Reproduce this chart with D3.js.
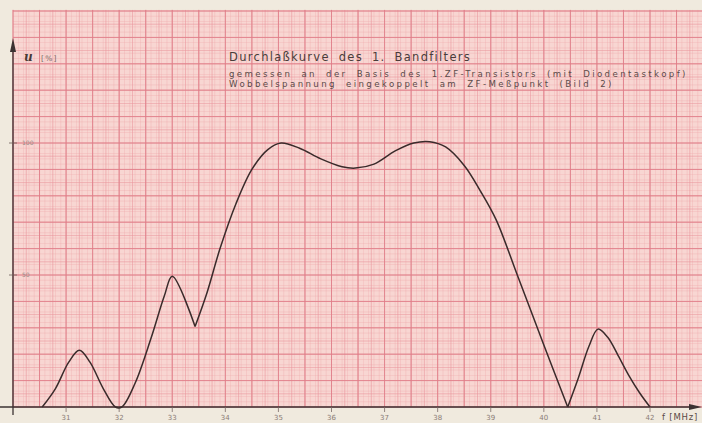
<!DOCTYPE html>
<html>
<head>
<meta charset="utf-8">
<script src="https://cdn.jsdelivr.net/npm/d3@7"></script>
<style>
  body { margin: 0; background: #f0eade; }
  svg { display: block; }
</style>
</head>
<body>
<div id="chart"></div>
<script>
var width = 702,
    height = 423;

// DATA
var freq = [30.55, 30.8, 31.05, 31.25, 31.45, 31.7, 31.93, 32.05, 32.3, 32.6, 32.85, 33.0, 33.43, 33.65, 33.9, 34.2, 34.5, 34.8, 35.05, 35.4, 35.8, 36.2, 36.45, 36.8, 37.2, 37.55, 37.85, 38.15, 38.5, 38.8, 39.1, 39.5, 40.0, 40.45, 40.65, 40.85, 41.02, 41.2, 41.4, 41.6, 41.8, 42.0];
var volt = [0, 7, 17, 21.5, 17, 7, 0, 0, 9, 26, 42, 49.5, 30.5, 43, 60, 77, 90, 97.5, 100, 98, 94, 91, 90.5, 92, 97, 100, 100.5, 98.5, 91.5, 82, 71, 50, 23.5, 0, 11, 23, 29.5, 26.5, 19.5, 12, 5.5, 0];
var sharpAt = [33.43, 40.45];

var xTicks = [31, 32, 33, 34, 35, 36, 37, 38, 39, 40, 41, 42];
var yTicks = [50, 100];

var title = "Durchlaßkurve des 1. Bandfilters";
var subtitle = ["gemessen an der Basis des 1.ZF-Transistors (mit Diodentastkopf)",
                "Wobbelspannung eingekoppelt am ZF-Meßpunkt (Bild 2)"];

var x = d3.scaleLinear().domain([30, 42]).range([13, 650]);
var y = d3.scaleLinear().domain([0, 100]).range([407, 143]);

var svg = d3.select("#chart").append("svg")
    .attr("width", width)
    .attr("height", height);

// PAPER
svg.append("rect")
    .attr("width", width).attr("height", height)
    .attr("fill", "#f0eade");

var x0 = x(30), x1 = width, y0 = y(0), y1 = y(150.4);
svg.append("rect")
    .attr("x", x0).attr("y", y1)
    .attr("width", x1 - x0).attr("height", y0 - y1)
    .attr("fill", "#f8d6d2");

// GRID (minor / medium / major)
var grid = svg.append("g").attr("class", "grid");
function gridLines(stepX, stepY, color, w, op) {
    var xs = d3.range(30, 43.01, stepX), ys = d3.range(0, 150.5, stepY);
    grid.append("g").selectAll("line").data(xs).enter().append("line")
        .attr("x1", function(d) { return x(d); }).attr("x2", function(d) { return x(d); })
        .attr("y1", y0).attr("y2", y1)
        .attr("stroke", color).attr("stroke-width", w).attr("opacity", op);
    grid.append("g").selectAll("line").data(ys).enter().append("line")
        .attr("y1", function(d) { return y(d); }).attr("y2", function(d) { return y(d); })
        .attr("x1", x0).attr("x2", x1)
        .attr("stroke", color).attr("stroke-width", w).attr("opacity", op);
}
gridLines(0.1, 2, "#f0a5a8", 0.6, 0.5);
gridLines(0.25, 5, "#ea939a", 0.8, 0.7);
gridLines(0.5, 10, "#e07d88", 1.0, 0.8);

// AXES
var axisColor = "#3b3232";
svg.append("line")
    .attr("x1", 0).attr("x2", 690)
    .attr("y1", y0).attr("y2", y0)
    .attr("stroke", axisColor).attr("stroke-width", 1.3);
svg.append("path")
    .attr("d", "M689," + (y0 - 3) + "L702," + y0 + "L689," + (y0 + 3) + "Z")
    .attr("fill", axisColor);
svg.append("line")
    .attr("x1", x0).attr("x2", x0)
    .attr("y1", y0 + 8).attr("y2", 50)
    .attr("stroke", axisColor).attr("stroke-width", 1.3);
svg.append("path")
    .attr("d", "M" + (x0 - 3) + ",52L" + x0 + ",38L" + (x0 + 3) + ",52Z")
    .attr("fill", axisColor);

// ticks
svg.append("g").selectAll("line").data(xTicks).enter().append("line")
    .attr("x1", function(d) { return x(d); }).attr("x2", function(d) { return x(d); })
    .attr("y1", y0).attr("y2", y0 + 5)
    .attr("stroke", "#7a6a66").attr("stroke-width", 0.8);
svg.append("g").selectAll("text").data(xTicks).enter().append("text")
    .attr("x", function(d) { return x(d); })
    .attr("y", y0 + 13)
    .attr("text-anchor", "middle")
    .attr("font-family", "DejaVu Sans")
    .attr("font-size", 7)
    .attr("fill", "#8a7c76")
    .text(function(d) { return d; });
svg.append("text")
    .attr("x", 662).attr("y", y0 + 13)
    .attr("font-family", "DejaVu Sans")
    .attr("font-size", 8.5)
    .attr("letter-spacing", 0.8)
    .attr("fill", "#5a4a46")
    .text("f [MHz]");

svg.append("g").selectAll("line").data(yTicks).enter().append("line")
    .attr("x1", x0 - 4).attr("x2", x0 + 4)
    .attr("y1", function(d) { return y(d); }).attr("y2", function(d) { return y(d); })
    .attr("stroke", "#6a5a56").attr("stroke-width", 0.8);
svg.append("g").selectAll("text").data(yTicks).enter().append("text")
    .attr("x", x0 + 9)
    .attr("y", function(d) { return y(d) + 2; })
    .attr("font-family", "DejaVu Sans")
    .attr("font-size", 6)
    .attr("fill", "#9a8a86")
    .text(function(d) { return d; });

svg.append("text")
    .attr("x", 24).attr("y", 61)
    .attr("font-family", "DejaVu Serif")
    .attr("font-style", "italic")
    .attr("font-weight", "bold")
    .attr("font-size", 12)
    .attr("fill", "#4a3a36")
    .text("u");
svg.append("text")
    .attr("x", 41).attr("y", 61)
    .attr("font-family", "DejaVu Sans")
    .attr("font-size", 7.5)
    .attr("letter-spacing", 1.2)
    .attr("fill", "#7a6a66")
    .text("[%]");

// TITLE
svg.append("text")
    .attr("x", 229).attr("y", 61)
    .attr("font-family", "DejaVu Sans")
    .attr("font-size", 11.5)
    .attr("letter-spacing", 1.3)
    .attr("word-spacing", 4)
    .attr("fill", "#4a3c3a")
    .text(title);
svg.selectAll("text.sub").data(subtitle).enter().append("text")
    .attr("class", "sub")
    .attr("x", 229)
    .attr("y", function(d, i) { return 77 + i * 10; })
    .attr("font-family", "DejaVu Sans")
    .attr("font-size", 8.6)
    .attr("letter-spacing", 2.4)
    .attr("word-spacing", 4)
    .attr("fill", "#5a4a48")
    .text(function(d) { return d; });

// CURVE, split at the sharp minima
var pts = freq.map(function(f, i) { return [f, volt[i]]; });
var pieces = [], cur = [];
pts.forEach(function(p) {
    cur.push(p);
    if (sharpAt.indexOf(p[0]) >= 0) { pieces.push(cur); cur = [p]; }
});
pieces.push(cur);

var line = d3.line()
    .x(function(d) { return x(d[0]); })
    .y(function(d) { return y(d[1]); })
    .curve(d3.curveCatmullRom.alpha(0.5));

svg.append("g").selectAll("path").data(pieces).enter().append("path")
    .attr("d", line)
    .attr("fill", "none")
    .attr("stroke", "#3a2b2b")
    .attr("stroke-width", 1.5)
    .attr("stroke-linejoin", "round");
</script>
</body>
</html>
